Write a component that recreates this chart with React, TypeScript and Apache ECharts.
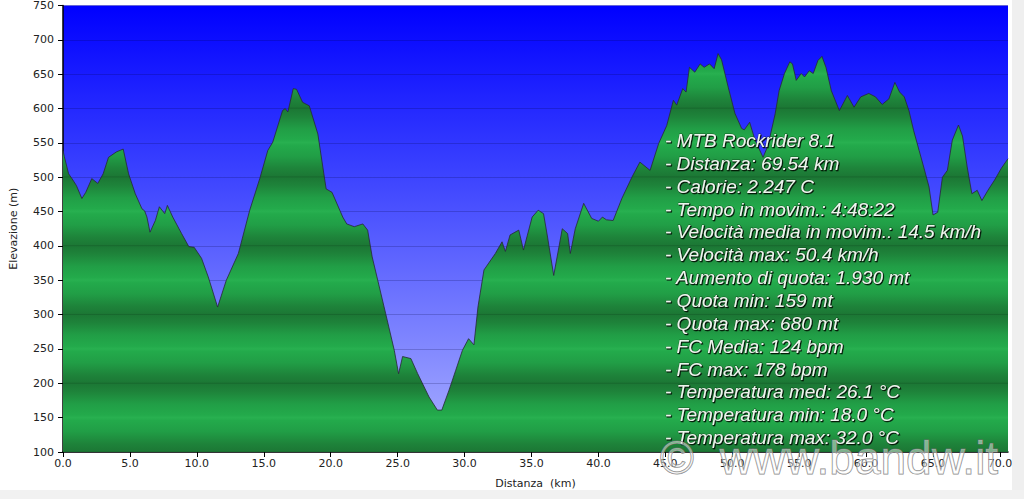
import React, { useEffect, useRef } from "react";
import * as echarts from "echarts";

// ---- data ----
const distanceKm: number[] = [
  0.0, 0.1, 0.42, 0.67, 1.0, 1.41, 1.7, 2.15, 2.6, 3.0, 3.4, 4.0, 4.5, 4.9, 5.4, 5.9, 6.1, 6.27, 6.5, 6.9,
  7.2, 7.6, 7.8, 8.2, 8.86, 9.4, 9.8, 10.35, 10.85, 11.55, 12.2, 13.1, 13.95, 14.7, 15.3, 15.67, 16.4, 16.6, 16.8, 17.2,
  17.45, 17.9, 18.4, 19.04, 19.66, 20.1, 20.9, 21.2, 21.76, 22.4, 22.76, 23.1, 24.1, 24.75, 25.07, 25.37, 25.99, 26.5, 27.35, 27.97,
  28.3, 28.84, 29.34, 29.84, 30.3, 30.7, 31.0, 31.45, 32.3, 32.8, 33.05, 33.4, 34.05, 34.4, 35.05, 35.5, 35.9, 36.2, 36.66, 37.3,
  37.7, 37.9, 38.27, 38.9, 39.5, 40.0, 40.3, 40.6, 41.1, 41.75, 42.5, 43.1, 43.86, 44.5, 45.1, 45.6, 45.85, 46.3, 46.55, 46.8,
  47.2, 47.6, 47.9, 48.3, 48.65, 48.94, 49.2, 49.7, 50.2, 50.7, 50.9, 51.3, 51.7, 52.3, 52.67, 53.2, 53.5, 53.9, 54.3, 54.5,
  54.78, 55.15, 55.4, 55.75, 56.05, 56.4, 56.7, 57.0, 57.4, 58.0, 58.6, 59.1, 59.6, 60.2, 60.7, 61.2, 61.7, 62.15, 62.5, 62.85,
  63.2, 63.55, 63.96, 64.3, 64.7, 65.0, 65.35, 65.7, 66.07, 66.44, 66.9, 67.2, 67.55, 67.9, 68.3, 68.65, 69.1, 69.6, 70.1, 70.6,
];
const elevationM: number[] = [
  539, 530, 505, 498, 488, 469, 478, 498, 491, 505, 529, 537, 541, 505, 476, 454, 451, 442, 420, 437,
  457, 447, 459, 442, 418, 399, 398, 382, 355, 311, 350, 389, 452, 498, 539, 551, 597, 600, 595, 629,
  628, 609, 604, 563, 483, 478, 442, 432, 428, 432, 423, 384, 302, 248, 214, 239, 236, 214, 180, 161,
  161, 190, 219, 248, 265, 256, 311, 365, 389, 406, 392, 416, 423, 394, 442, 452, 447, 413, 357, 425,
  418, 389, 425, 462, 440, 436, 442, 438, 437, 469, 500, 522, 510, 549, 575, 612, 605, 629, 624, 660,
  653, 665, 660, 665, 658, 680, 671, 631, 593, 571, 569, 580, 554, 529, 546, 592, 626, 651, 668, 665,
  641, 651, 646, 655, 651, 670, 676, 660, 626, 597, 619, 602, 617, 622, 617, 606, 614, 638, 624, 617,
  597, 568, 539, 515, 486, 445, 449, 500, 510, 554, 576, 560, 515, 476, 481, 466, 481, 496, 513, 527,
];
const xTickValues: number[] = [0, 5, 10, 15, 20, 25, 30, 35, 40, 45, 50, 55, 60, 65, 70];
const infoLines: string[] = [
  "- MTB Rockrider 8.1",
  "- Distanza: 69.54 km",
  "- Calorie: 2.247 C",
  "- Tempo in movim.: 4:48:22",
  "- Velocità media in movim.: 14.5 km/h",
  "- Velocità max: 50.4 km/h",
  "- Aumento di quota: 1.930 mt",
  "- Quota min: 159 mt",
  "- Quota max: 680 mt",
  "- FC Media: 124 bpm",
  "- FC max: 178 bpm",
  "- Temperatura med: 26.1 °C",
  "- Temperatura min: 18.0 °C",
  "- Temperatura max: 32.0 °C",
];
const watermark = "©  www.bandw.it";
const xAxisName = "Distanza  (km)";
const yAxisName = "Elevazione (m)";

// ---- layout ----
const W = 1024;
const H = 499;
const GRID = { left: 61, top: 5, right: 16, bottom: 47 };
const Y_MIN = 100;
const Y_MAX = 750;
const X_MAX = 70.6;
const plotTop = GRID.top;
const plotBottom = H - GRID.bottom;

// green stripes colour as a function of distance (m) from the nearest hundred line
const stripePattern: [number, number[]][] = [
  [0, [23, 104, 45]],
  [1.5, [28, 120, 53]],
  [12, [30, 131, 58]],
  [30, [33, 158, 70]],
  [46, [35, 170, 75]],
  [50, [40, 176, 80]],
];
function stripeColor(v: number): string {
  const m = ((v % 100) + 100) % 100;
  const d = Math.min(m, 100 - m);
  for (let i = 0; i < stripePattern.length - 1; i++) {
    const [d0, c0] = stripePattern[i];
    const [d1, c1] = stripePattern[i + 1];
    if (d >= d0 && d <= d1) {
      const t = d1 === d0 ? 0 : (d - d0) / (d1 - d0);
      const c = c0.map((a, k) => Math.round(a + (c1[k] - a) * t));
      return `rgb(${c[0]},${c[1]},${c[2]})`;
    }
  }
  const c = stripePattern[stripePattern.length - 1][1];
  return `rgb(${c[0]},${c[1]},${c[2]})`;
}
function buildGreenStops() {
  const offs = [0, 1.5, 12, 30, 46, 50, 54, 70, 88, 98.5];
  const vals: number[] = [Y_MAX];
  for (let base = 0; base <= 800; base += 100) {
    for (const o of offs) {
      const v = base + o;
      if (v > Y_MIN && v < Y_MAX) vals.push(v);
    }
  }
  vals.push(Y_MIN);
  vals.sort((a, b) => b - a);
  return vals.map((v) => ({ offset: (Y_MAX - v) / (Y_MAX - Y_MIN), color: stripeColor(v) }));
}

const axisFont = { fontFamily: "DejaVu Sans", fontSize: 11, color: "#222" };

export default function App() {
  const ref = useRef<HTMLDivElement>(null);
  useEffect(() => {
    if (!ref.current) return;
    const chart = echarts.init(ref.current, undefined, { renderer: "svg", width: W, height: H });
    const sky = new echarts.graphic.LinearGradient(0, 0, 0, 1, [
      { offset: 0, color: "rgb(0,0,255)" },
      { offset: 0.35, color: "rgb(55,62,255)" },
      { offset: 1, color: "rgb(172,178,255)" },
    ]);
    const green = new echarts.graphic.LinearGradient(0, plotTop, 0, plotBottom, buildGreenStops(), true);
    const lineStep = 22.85;
    const textGraphics = infoLines.map((t, i) => ({
      type: "text",
      x: 665,
      y: 140.5 + i * lineStep,
      z: 20,
      style: {
        text: t,
        fill: "#eef5ee",
        stroke: "rgba(20,40,20,0.55)",
        lineWidth: 0.8,
        fontFamily: "Liberation Sans",
        fontStyle: "italic",
        fontSize: 19,
        verticalAlign: "middle",
        shadowColor: "rgba(0,0,0,0.85)",
        shadowOffsetX: 1,
        shadowOffsetY: 1,
        shadowBlur: 1,
        textShadowColor: "rgba(0,0,0,0.85)",
        textShadowOffsetX: 1,
        textShadowOffsetY: 1,
        textShadowBlur: 1,
      },
    }));
    const option: any = {
      animation: false,
      backgroundColor: "#ffffff",
      grid: { ...GRID, show: true, borderWidth: 0, backgroundColor: sky },
      xAxis: {
        type: "value",
        min: 0,
        max: X_MAX,
        interval: 5,
        name: xAxisName,
        nameLocation: "middle",
        nameGap: 26,
        nameTextStyle: { ...axisFont },
        axisLine: { show: true, onZero: false, lineStyle: { color: "#000", width: 1.5 } },
        axisTick: { show: true, length: 5, customValues: xTickValues, lineStyle: { color: "#000" } },
        axisLabel: {
          customValues: xTickValues,
          margin: 6,
          formatter: (v: number) => v.toFixed(1),
          ...axisFont,
        },
        splitLine: { show: false },
      },
      yAxis: {
        type: "value",
        min: Y_MIN,
        max: Y_MAX,
        interval: 50,
        name: yAxisName,
        nameLocation: "middle",
        nameRotate: 90,
        nameGap: 44,
        nameTextStyle: { ...axisFont },
        axisLine: { show: true, lineStyle: { color: "#000", width: 1.5 } },
        axisTick: { show: true, length: 5, lineStyle: { color: "#000" } },
        axisLabel: { margin: 9, ...axisFont },
        splitLine: { show: true, lineStyle: { color: "rgba(0,0,60,0.2)", width: 1 } },
      },
      series: [
        {
          type: "line",
          data: distanceKm.map((d, i) => [d, elevationM[i]]),
          showSymbol: false,
          symbol: "none",
          lineStyle: { color: "rgba(40,40,55,0.8)", width: 1 },
          areaStyle: { color: green, opacity: 1, origin: "start" },
          z: 2,
        },
      ],
      graphic: [
        { type: "rect", shape: { x: 1012, y: 0, width: 12, height: H }, style: { fill: "#efefef" }, z: 1 },
        { type: "rect", shape: { x: 0, y: 490, width: W, height: 9 }, style: { fill: "#f1f1f1" }, z: 1 },
        ...textGraphics,
        {
          type: "text",
          x: 660,
          y: 458,
          z: 30,
          style: {
            text: watermark,
            fill: "rgba(255,255,255,0.45)",
            stroke: "rgba(110,110,110,0.85)",
            lineWidth: 1,
            fontFamily: "Liberation Sans",
            fontSize: 46,
            verticalAlign: "middle",
          },
        },
      ],
    };
    chart.setOption(option);
    return () => chart.dispose();
  }, []);
  return (
    <div
      ref={ref}
      style={{ position: "fixed", left: 0, top: 0, width: W, height: H, background: "#fff" }}
    />
  );
}
